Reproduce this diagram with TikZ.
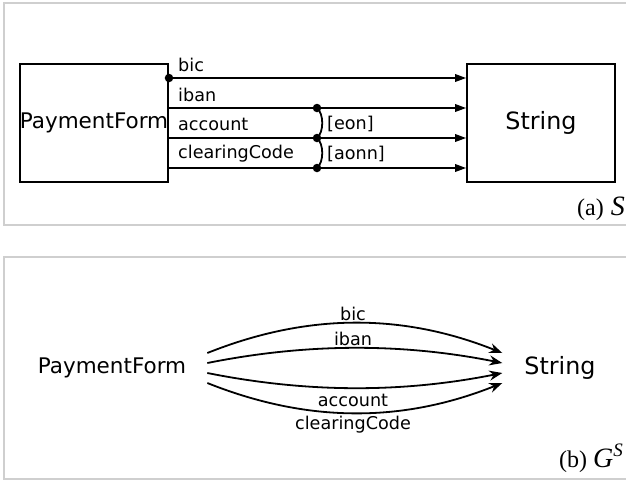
\documentclass[tikz,border=0pt]{standalone}
\usepackage{fontspec}
\setmainfont{DejaVu Sans}
\newfontfamily\capfont{Liberation Serif}
\usetikzlibrary{arrows.meta}
\definecolor{framegray}{HTML}{CFCFCF}

\begin{document}
\begin{tikzpicture}[x=1pt,y=-1pt,
  frame/.style={draw=framegray, line width=1.6pt},
  classbox/.style={draw, line width=1.7pt, minimum width=148pt, minimum height=118pt,
    inner sep=0pt, font=\fontsize{21.5}{24}\selectfont},
  bigname/.style={font=\fontsize{23.8}{26}\selectfont},
  lbl/.style={font=\fontsize{17.6}{20}\selectfont, inner sep=0pt},
  assoc/.style={line width=1.8pt, -{Triangle[length=11pt,width=7.5pt]}},
  edgearc/.style={line width=1.8pt, -{Stealth[length=13pt,width=10pt]}},
  dot/.style={circle, fill, inner sep=0pt, minimum size=8.5pt},
  bracket/.style={line width=1.8pt},
  subcaption/.style={font=\capfont\fontsize{24}{26}\selectfont, inner sep=0pt, anchor=base east}
]
\path[use as bounding box] (0,0) rectangle (626,480);
\clip (0,0) rectangle (626,480);

% ---- (a) class diagram ----
\draw[frame] (4,3) rectangle (640,225);
\node[classbox] (pf) at (94,123) {PaymentForm};
\node[classbox, bigname] (str) at (541,123) {String};

\node[dot] (d0) at ([yshift=45pt]pf.east) {};
\draw[assoc] (d0.center) -- ([yshift=45pt]str.west);
\draw[assoc] ([yshift=15pt]pf.east) -- ([yshift=15pt]str.west);
\draw[assoc] ([yshift=-15pt]pf.east) -- ([yshift=-15pt]str.west);
\draw[assoc] ([yshift=-45pt]pf.east) -- ([yshift=-45pt]str.west);

\node[dot] (d1) at (317,108) {};
\node[dot] (d2) at (317,138) {};
\node[dot] (d3) at (317,168) {};
% xor constraints between neighbouring associations
\draw[bracket] (d1.center) .. controls +(7,6) and +(7,-6) .. (d2.center);
\draw[bracket] (d2.center) .. controls +(7,6) and +(7,-6) .. (d3.center);

\node[lbl, anchor=west] (la1) at (178,65) {bic};
\node[lbl, anchor=west] (la2) at (178,95) {iban};
\node[lbl, anchor=west] (la3) at (178,124) {account};
\node[lbl, anchor=west] (la4) at (178,154) {clearingCode};
\node[lbl, anchor=west] (k1) at (327,124) {[eon]};
\node[lbl, anchor=west] (k2) at (327,154) {[aonn]};

\node[subcaption] (capa) at (625,215) {(a)\hspace{7pt}{\fontsize{28}{28}\selectfont\textit{S}}};

% ---- (b) graph ----
\draw[frame] (4,257) rectangle (640,479);
\node[font=\fontsize{21.5}{24}\selectfont, inner xsep=21pt] (pf2) at (112,368) {PaymentForm};
\node[bigname, inner xsep=22pt] (str2) at (560,368) {String};

\draw[edgearc] ([yshift=15pt]pf2.east) .. controls +(100,-40) and +(-100,-40) .. ([yshift=15pt]str2.west);
\draw[edgearc] ([yshift=5pt]pf2.east) .. controls +(100,-20) and +(-100,-20) .. ([yshift=5pt]str2.west);
\draw[edgearc] ([yshift=-5pt]pf2.east) .. controls +(100,20) and +(-100,20) .. ([yshift=-5pt]str2.west);
\draw[edgearc] ([yshift=-15pt]pf2.east) .. controls +(100,40) and +(-100,40) .. ([yshift=-15pt]str2.west);

\node[lbl] (lb1) at (353,314) {bic};
\node[lbl] (lb2) at (353,339) {iban};
\node[lbl] (lb3) at (353,400) {account};
\node[lbl] (lb4) at (353,425) {clearingCode};

\node[subcaption] (capb) at (623,467) {(b)\hspace{6pt}{\fontsize{28}{28}\selectfont\textit{G}}\raisebox{11pt}{\fontsize{19}{19}\selectfont\textit{S}}};
\end{tikzpicture}
\end{document}
